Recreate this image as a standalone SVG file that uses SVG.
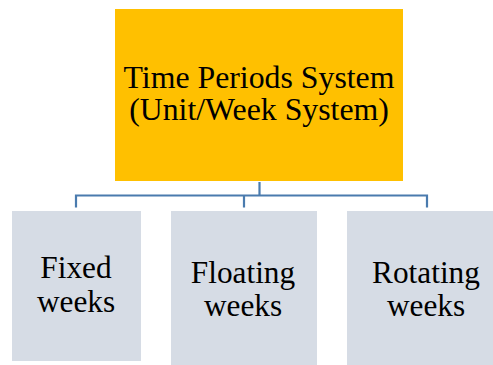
<svg xmlns="http://www.w3.org/2000/svg" width="493" height="365" viewBox="0 0 493 365">
  <style>
    .root { fill: #FFC000; }
    .leaf { fill: #D6DCE5; }
    .label { font-family: "Liberation Serif", "Times New Roman", serif; font-size: 31.3px; fill: #000; text-anchor: middle; }
    .title { font-size: 31.8px; }
    .link { fill: none; stroke: #4A7BAE; stroke-width: 2.2; }
  </style>
  <rect width="493" height="365" fill="#FFFFFF"/>

  <!-- tree connectors -->
  <g id="connectors">
    <path class="link" d="M259.5 182 V195.5 M76 207.5 V195.5 H427 V207.5 M244 195.5 V207.5"/>
  </g>

  <g id="node-root">
    <rect class="root" x="115" y="9" width="288" height="172"/>
    <text class="label title" x="259" y="88">Time Periods System</text>
    <text class="label title" x="259" y="120">(Unit/Week System)</text>
  </g>

  <g id="node-fixed">
    <rect class="leaf" x="12" y="211" width="129" height="150"/>
    <text class="label" x="76" y="278">Fixed</text>
    <text class="label" x="76" y="311.5">weeks</text>
  </g>

  <g id="node-floating">
    <rect class="leaf" x="171" y="211" width="146" height="160"/>
    <text class="label" x="243" y="283">Floating</text>
    <text class="label" x="243" y="316">weeks</text>
  </g>

  <g id="node-rotating">
    <rect class="leaf" x="347" y="211" width="160" height="160"/>
    <text class="label" x="426" y="283">Rotating</text>
    <text class="label" x="426" y="316">weeks</text>
  </g>
</svg>
